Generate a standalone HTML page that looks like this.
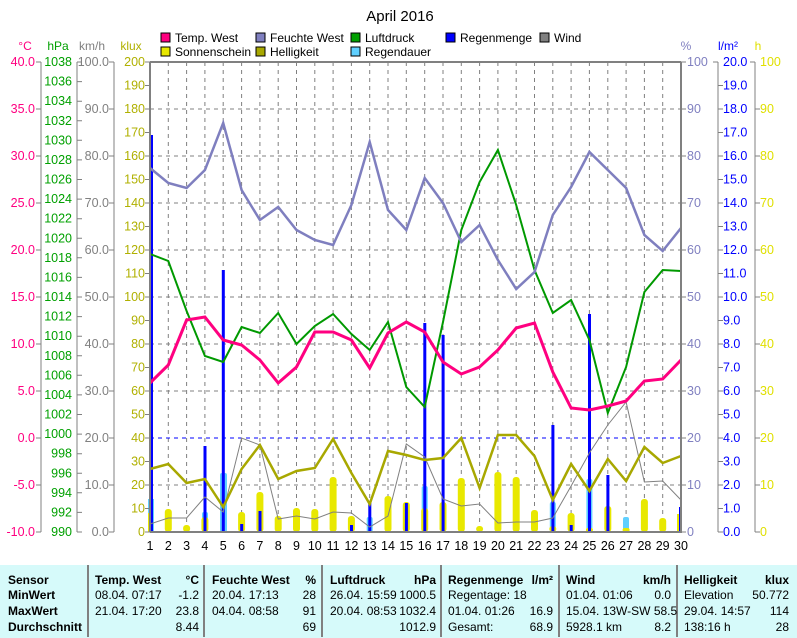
<!DOCTYPE html>
<html><head><meta charset="utf-8"><style>
html,body{margin:0;padding:0;background:#fff;}
svg{display:block;font-family:"Liberation Sans",sans-serif;}
</style></head><body>
<svg width="797" height="638" viewBox="0 0 797 638" xmlns="http://www.w3.org/2000/svg">
<rect width="797" height="638" fill="#fff"/>
<text x="400" y="21" font-size="15" text-anchor="middle">April 2016</text>
<!-- legend -->
<g font-size="12">
<rect x="161" y="33" width="9" height="9" fill="#ff0080" stroke="#000"/><text x="175" y="42">Temp. West</text>
<rect x="256" y="33" width="9" height="9" fill="#8080c0" stroke="#000"/><text x="270" y="42">Feuchte West</text>
<rect x="351" y="33" width="9" height="9" fill="#00a000" stroke="#000"/><text x="365" y="42">Luftdruck</text>
<rect x="446" y="33" width="9" height="9" fill="#0000ff" stroke="#000"/><text x="460" y="42">Regenmenge</text>
<rect x="540" y="33" width="9" height="9" fill="#808080" stroke="#000"/><text x="554" y="42">Wind</text>
<rect x="161" y="47" width="9" height="9" fill="#e8e800" stroke="#000"/><text x="175" y="56">Sonnenschein</text>
<rect x="256" y="47" width="9" height="9" fill="#a8a800" stroke="#000"/><text x="270" y="56">Helligkeit</text>
<rect x="351" y="47" width="9" height="9" fill="#60d0ff" stroke="#000"/><text x="365" y="56">Regendauer</text>
</g>
<!-- axis titles -->
<g font-size="12" text-anchor="middle">
<text x="25" y="50" fill="#ff0080">°C</text>
<text x="58" y="50" fill="#00a000">hPa</text>
<text x="92" y="50" fill="#808080">km/h</text>
<text x="131" y="50" fill="#b0b000">klux</text>
<text x="686" y="50" fill="#8080c0">%</text>
<text x="728" y="50" fill="#0000ff">l/m²</text>
<text x="758" y="50" fill="#e0e000">h</text>
</g>
<!-- grid -->
<g stroke="#808080" stroke-dasharray="4,4" stroke-width="1">
<line x1="150" y1="109" x2="681" y2="109"/><line x1="150" y1="156" x2="681" y2="156"/><line x1="150" y1="203" x2="681" y2="203"/><line x1="150" y1="250" x2="681" y2="250"/><line x1="150" y1="297" x2="681" y2="297"/><line x1="150" y1="344" x2="681" y2="344"/><line x1="150" y1="391" x2="681" y2="391"/><line x1="150" y1="485" x2="681" y2="485"/>
<line x1="168.3" y1="62" x2="168.3" y2="532"/><line x1="186.6" y1="62" x2="186.6" y2="532"/><line x1="204.9" y1="62" x2="204.9" y2="532"/><line x1="223.2" y1="62" x2="223.2" y2="532"/><line x1="241.6" y1="62" x2="241.6" y2="532"/><line x1="259.9" y1="62" x2="259.9" y2="532"/><line x1="278.2" y1="62" x2="278.2" y2="532"/><line x1="296.5" y1="62" x2="296.5" y2="532"/><line x1="314.8" y1="62" x2="314.8" y2="532"/><line x1="333.1" y1="62" x2="333.1" y2="532"/><line x1="351.4" y1="62" x2="351.4" y2="532"/><line x1="369.7" y1="62" x2="369.7" y2="532"/><line x1="388" y1="62" x2="388" y2="532"/><line x1="406.3" y1="62" x2="406.3" y2="532"/><line x1="424.7" y1="62" x2="424.7" y2="532"/><line x1="443" y1="62" x2="443" y2="532"/><line x1="461.3" y1="62" x2="461.3" y2="532"/><line x1="479.6" y1="62" x2="479.6" y2="532"/><line x1="497.9" y1="62" x2="497.9" y2="532"/><line x1="516.2" y1="62" x2="516.2" y2="532"/><line x1="534.5" y1="62" x2="534.5" y2="532"/><line x1="552.8" y1="62" x2="552.8" y2="532"/><line x1="571.1" y1="62" x2="571.1" y2="532"/><line x1="589.4" y1="62" x2="589.4" y2="532"/><line x1="607.8" y1="62" x2="607.8" y2="532"/><line x1="626.1" y1="62" x2="626.1" y2="532"/><line x1="644.4" y1="62" x2="644.4" y2="532"/><line x1="662.7" y1="62" x2="662.7" y2="532"/>
</g>
<line x1="150" y1="438" x2="681" y2="438" stroke="#0000ff" stroke-dasharray="4,4"/>
<!-- rain duration -->
<g fill="#60d0ff">
<rect x="148" y="499" width="6" height="33"/><rect x="202" y="512" width="6" height="20" rx="2"/><rect x="220" y="473" width="7" height="59" rx="2"/><rect x="366.7" y="517" width="6" height="15" rx="2"/><rect x="421.7" y="486" width="6" height="46" rx="2"/><rect x="549.8" y="502" width="6" height="30" rx="2"/><rect x="586.4" y="479" width="6" height="53" rx="2"/><rect x="623" y="517" width="6" height="15" rx="2"/>
</g>
<!-- sunshine -->
<g fill="#e8e800">
<rect x="148" y="513" width="5" height="19"/><rect x="164.8" y="509" width="7" height="23" rx="3"/><rect x="183.1" y="525" width="7" height="7" rx="3"/><rect x="201.4" y="517" width="7" height="15" rx="3"/><rect x="238.1" y="512" width="7" height="20" rx="3"/><rect x="256.4" y="492" width="7" height="40" rx="3"/><rect x="274.7" y="516" width="7" height="16" rx="3"/><rect x="293" y="508" width="7" height="24" rx="3"/><rect x="311.3" y="509" width="7" height="23" rx="3"/><rect x="329.6" y="477" width="7" height="55" rx="3"/><rect x="347.9" y="516" width="7" height="16" rx="3"/><rect x="384.5" y="496" width="7" height="36" rx="3"/><rect x="402.8" y="502" width="7" height="30" rx="3"/><rect x="421.2" y="508" width="7" height="24" rx="3"/><rect x="439.5" y="502" width="7" height="30" rx="3"/><rect x="457.8" y="478" width="7" height="54" rx="3"/><rect x="476.1" y="526" width="7" height="6" rx="3"/><rect x="494.4" y="472" width="7" height="60" rx="3"/><rect x="512.7" y="477" width="7" height="55" rx="3"/><rect x="531" y="510" width="7" height="22" rx="3"/><rect x="549.3" y="526" width="7" height="6" rx="3"/><rect x="567.6" y="513" width="7" height="19" rx="3"/><rect x="585.9" y="528" width="7" height="4" rx="2"/><rect x="604.3" y="506" width="7" height="26" rx="3"/><rect x="622.6" y="528" width="7" height="4" rx="2"/><rect x="640.9" y="499" width="7" height="33" rx="3"/><rect x="659.2" y="518" width="7" height="14" rx="3"/><rect x="677" y="514" width="4" height="18"/>
</g>
<!-- rain amount -->
<g fill="#0000ff">
<rect x="150" y="135" width="3" height="397"/><rect x="203.5" y="446" width="3" height="86"/><rect x="221.8" y="270" width="3" height="262"/><rect x="240.2" y="524" width="3" height="8"/><rect x="258.5" y="511" width="3" height="21"/><rect x="350" y="525" width="3" height="7"/><rect x="368.3" y="503" width="3" height="29"/><rect x="404.9" y="503" width="3" height="29"/><rect x="423.3" y="323" width="3" height="209"/><rect x="441.6" y="335" width="3" height="197"/><rect x="551.4" y="425" width="3" height="107"/><rect x="569.7" y="525" width="3" height="7"/><rect x="588" y="314" width="3" height="218"/><rect x="606.4" y="475" width="3" height="57"/><rect x="679" y="507" width="3" height="25"/>
</g>
<!-- wind -->
<polyline fill="none" stroke="#808080" stroke-width="1" points="150,524 168.3,518 186.6,518 204.9,497 223.2,512 241.6,438 259.9,445 278.2,519 296.5,516 314.8,519 333.1,512 351.4,513 369.7,527 388,516 406.3,444 424.7,457 443,499 461.3,506 479.6,504 497.9,523 516.2,522 534.5,522 552.8,518 571.1,486 589.4,453 607.8,425 626.1,402 644.4,482 662.7,481 681,500"/>
<!-- brightness -->
<polyline fill="none" stroke="#a8a800" stroke-width="2.5" points="150,469 168.3,464 186.6,483 204.9,479 223.2,507 241.6,469 259.9,445 278.2,479 296.5,471 314.8,468 333.1,439 351.4,473 369.7,504 388,451 406.3,455 424.7,460 443,458 461.3,438 479.6,488 497.9,435 516.2,435 534.5,456 552.8,500 571.1,464 589.4,491 607.8,459 626.1,481 644.4,447 662.7,463 681,456"/>
<!-- pressure -->
<polyline fill="none" stroke="#009900" stroke-width="2" points="150,254 168.3,261 186.6,311 204.9,356 223.2,362 241.6,327 259.9,333 278.2,313 296.5,344 314.8,326 333.1,314 351.4,334 369.7,350 388,322 406.3,387 424.7,407 443,322 461.3,230 479.6,182 497.9,150 516.2,205 534.5,270 552.8,313 571.1,300 589.4,340 607.8,413 626.1,367 644.4,292 662.7,270 681,271"/>
<!-- humidity -->
<polyline fill="none" stroke="#7f7fbf" stroke-width="2.5" points="150,168 168.3,183 186.6,188 204.9,170 223.2,123 241.6,190 259.9,220 278.2,207 296.5,230 314.8,240 333.1,245 351.4,205 369.7,142 388,210 406.3,230 424.7,178 443,203 461.3,242 479.6,225 497.9,260 516.2,289 534.5,272 552.8,215 571.1,187 589.4,152 607.8,170 626.1,188 644.4,235 662.7,251 681,228"/>
<!-- temp -->
<polyline fill="none" stroke="#ff0080" stroke-width="3" points="150,383 168.3,365 186.6,320 204.9,317 223.2,340 241.6,345 259.9,360 278.2,383 296.5,367 314.8,332 333.1,332 351.4,340 369.7,368 388,333 406.3,322 424.7,332 443,362 461.3,374 479.6,367 497.9,350 516.2,328 534.5,323 552.8,372 571.1,408 589.4,410 607.8,406 626.1,401 644.4,381 662.7,379 681,360"/>
<!-- plot frame -->
<g stroke="#808080" fill="none">
<line x1="150" y1="62" x2="681" y2="62" stroke-width="2"/>
<line x1="150" y1="532" x2="681" y2="532" stroke-width="2"/>
<line x1="150" y1="62" x2="150" y2="532" stroke-width="2"/>
<line x1="681" y1="62" x2="681" y2="533" stroke-width="2"/>
<line x1="41" y1="62" x2="41" y2="532"/><line x1="77" y1="62" x2="77" y2="532"/><line x1="114" y1="62" x2="114" y2="532"/><line x1="718" y1="62" x2="718" y2="532"/><line x1="755" y1="62" x2="755" y2="532"/>
</g>
<!-- ticks -->
<g stroke="#808080">
<path d="M36 62h5M36 109h5M36 156h5M36 203h5M36 250h5M36 297h5M36 344h5M36 391h5M36 438h5M36 485h5M36 532h5"/>
<path d="M77 62h5M77 81.6h5M77 101.2h5M77 120.8h5M77 140.3h5M77 159.9h5M77 179.5h5M77 199.1h5M77 218.7h5M77 238.3h5M77 257.8h5M77 277.4h5M77 297h5M77 316.6h5M77 336.2h5M77 355.8h5M77 375.3h5M77 394.9h5M77 414.5h5M77 434.1h5M77 453.7h5M77 473.3h5M77 492.8h5M77 512.4h5M77 532h5"/>
<path d="M109 62h5M109 109h5M109 156h5M109 203h5M109 250h5M109 297h5M109 344h5M109 391h5M109 438h5M109 485h5M109 532h5"/>
<path d="M145 62h5M145 85.5h5M145 109h5M145 132.5h5M145 156h5M145 179.5h5M145 203h5M145 226.5h5M145 250h5M145 273.5h5M145 297h5M145 320.5h5M145 344h5M145 367.5h5M145 391h5M145 414.5h5M145 438h5M145 461.5h5M145 485h5M145 508.5h5M145 532h5"/>
<path d="M681 62h5M681 109h5M681 156h5M681 203h5M681 250h5M681 297h5M681 344h5M681 391h5M681 438h5M681 485h5M681 532h5"/>
<path d="M713 62h5M718 85.5h5M718 109h5M718 132.5h5M718 156h5M718 179.5h5M718 203h5M718 226.5h5M718 250h5M718 273.5h5M718 297h5M718 320.5h5M718 344h5M718 367.5h5M718 391h5M718 414.5h5M718 438h5M718 461.5h5M718 485h5M718 508.5h5M718 532h5"/>
<path d="M750 62h5M755 109h5M755 156h5M755 203h5M755 250h5M755 297h5M755 344h5M755 391h5M755 438h5M755 485h5M755 532h5"/>
</g>
<!-- tick labels -->
<g font-size="12.5" dominant-baseline="central" text-anchor="end">
<g fill="#ff0080">
<text x="35" y="62">40.0</text><text x="35" y="109">35.0</text><text x="35" y="156">30.0</text><text x="35" y="203">25.0</text><text x="35" y="250">20.0</text><text x="35" y="297">15.0</text><text x="35" y="344">10.0</text><text x="35" y="391">5.0</text><text x="35" y="438">0.0</text><text x="35" y="485">-5.0</text><text x="35" y="532">-10.0</text>
</g>
<g fill="#00a000">
<text x="72" y="62">1038</text><text x="72" y="81.6">1036</text><text x="72" y="101.2">1034</text><text x="72" y="120.8">1032</text><text x="72" y="140.3">1030</text><text x="72" y="159.9">1028</text><text x="72" y="179.5">1026</text><text x="72" y="199.1">1024</text><text x="72" y="218.7">1022</text><text x="72" y="238.3">1020</text><text x="72" y="257.8">1018</text><text x="72" y="277.4">1016</text><text x="72" y="297">1014</text><text x="72" y="316.6">1012</text><text x="72" y="336.2">1010</text><text x="72" y="355.8">1008</text><text x="72" y="375.3">1006</text><text x="72" y="394.9">1004</text><text x="72" y="414.5">1002</text><text x="72" y="434.1">1000</text><text x="72" y="453.7">998</text><text x="72" y="473.3">996</text><text x="72" y="492.8">994</text><text x="72" y="512.4">992</text><text x="72" y="532">990</text>
</g>
<g fill="#808080">
<text x="109" y="62">100.0</text><text x="109" y="109">90.0</text><text x="109" y="156">80.0</text><text x="109" y="203">70.0</text><text x="109" y="250">60.0</text><text x="109" y="297">50.0</text><text x="109" y="344">40.0</text><text x="109" y="391">30.0</text><text x="109" y="438">20.0</text><text x="109" y="485">10.0</text><text x="109" y="532">0.0</text>
</g>
<g fill="#b0b000">
<text x="145" y="62">200</text><text x="145" y="85.5">190</text><text x="145" y="109">180</text><text x="145" y="132.5">170</text><text x="145" y="156">160</text><text x="145" y="179.5">150</text><text x="145" y="203">140</text><text x="145" y="226.5">130</text><text x="145" y="250">120</text><text x="145" y="273.5">110</text><text x="145" y="297">100</text><text x="145" y="320.5">90</text><text x="145" y="344">80</text><text x="145" y="367.5">70</text><text x="145" y="391">60</text><text x="145" y="414.5">50</text><text x="145" y="438">40</text><text x="145" y="461.5">30</text><text x="145" y="485">20</text><text x="145" y="508.5">10</text><text x="145" y="532">0</text>
</g>
</g>
<g font-size="12.5" dominant-baseline="central" text-anchor="start">
<g fill="#8080c0">
<text x="687" y="62">100</text><text x="687" y="109">90</text><text x="687" y="156">80</text><text x="687" y="203">70</text><text x="687" y="250">60</text><text x="687" y="297">50</text><text x="687" y="344">40</text><text x="687" y="391">30</text><text x="687" y="438">20</text><text x="687" y="485">10</text><text x="687" y="532">0</text>
</g>
<g fill="#0000ff">
<text x="723" y="62">20.0</text><text x="723" y="85.5">19.0</text><text x="723" y="109">18.0</text><text x="723" y="132.5">17.0</text><text x="723" y="156">16.0</text><text x="723" y="179.5">15.0</text><text x="723" y="203">14.0</text><text x="723" y="226.5">13.0</text><text x="723" y="250">12.0</text><text x="723" y="273.5">11.0</text><text x="723" y="297">10.0</text><text x="723" y="320.5">9.0</text><text x="723" y="344">8.0</text><text x="723" y="367.5">7.0</text><text x="723" y="391">6.0</text><text x="723" y="414.5">5.0</text><text x="723" y="438">4.0</text><text x="723" y="461.5">3.0</text><text x="723" y="485">2.0</text><text x="723" y="508.5">1.0</text><text x="723" y="532">0.0</text>
</g>
<g fill="#e0e000">
<text x="760" y="62">100</text><text x="760" y="109">90</text><text x="760" y="156">80</text><text x="760" y="203">70</text><text x="760" y="250">60</text><text x="760" y="297">50</text><text x="760" y="344">40</text><text x="760" y="391">30</text><text x="760" y="438">20</text><text x="760" y="485">10</text><text x="760" y="532">0</text>
</g>
</g>
<!-- x labels -->
<g font-size="12.5" text-anchor="middle">
<text x="150" y="550">1</text><text x="168.3" y="550">2</text><text x="186.6" y="550">3</text><text x="204.9" y="550">4</text><text x="223.2" y="550">5</text><text x="241.6" y="550">6</text><text x="259.9" y="550">7</text><text x="278.2" y="550">8</text><text x="296.5" y="550">9</text><text x="314.8" y="550">10</text><text x="333.1" y="550">11</text><text x="351.4" y="550">12</text><text x="369.7" y="550">13</text><text x="388" y="550">14</text><text x="406.3" y="550">15</text><text x="424.7" y="550">16</text><text x="443" y="550">17</text><text x="461.3" y="550">18</text><text x="479.6" y="550">19</text><text x="497.9" y="550">20</text><text x="516.2" y="550">21</text><text x="534.5" y="550">22</text><text x="552.8" y="550">23</text><text x="571.1" y="550">24</text><text x="589.4" y="550">25</text><text x="607.8" y="550">26</text><text x="626.1" y="550">27</text><text x="644.4" y="550">28</text><text x="662.7" y="550">29</text><text x="681" y="550">30</text>
</g>
<!-- table -->
<rect x="0" y="565" width="797" height="73" fill="#d6fafa"/>
<g stroke="#808080" stroke-width="2">
<line x1="88" y1="565" x2="88" y2="637"/><line x1="204" y1="565" x2="204" y2="637"/><line x1="322" y1="565" x2="322" y2="637"/><line x1="441" y1="565" x2="441" y2="637"/><line x1="559" y1="565" x2="559" y2="637"/><line x1="677" y1="565" x2="677" y2="637"/>
</g>
<g font-size="12">
<g font-weight="bold">
<text x="8" y="584">Sensor</text><text x="8" y="599">MinWert</text><text x="8" y="615">MaxWert</text><text x="8" y="631">Durchschnitt</text>
<text x="95" y="584">Temp. West</text><text x="199" y="584" text-anchor="end">°C</text>
<text x="212" y="584">Feuchte West</text><text x="316" y="584" text-anchor="end">%</text>
<text x="330" y="584">Luftdruck</text><text x="436" y="584" text-anchor="end">hPa</text>
<text x="448" y="584">Regenmenge</text><text x="553" y="584" text-anchor="end">l/m²</text>
<text x="566" y="584">Wind</text><text x="671" y="584" text-anchor="end">km/h</text>
<text x="684" y="584">Helligkeit</text><text x="789" y="584" text-anchor="end">klux</text>
</g>
<text x="95" y="599">08.04.  07:17</text><text x="199" y="599" text-anchor="end">-1.2</text>
<text x="95" y="615">21.04.  17:20</text><text x="199" y="615" text-anchor="end">23.8</text>
<text x="199" y="631" text-anchor="end">8.44</text>
<text x="212" y="599">20.04.  17:13</text><text x="316" y="599" text-anchor="end">28</text>
<text x="212" y="615">04.04.  08:58</text><text x="316" y="615" text-anchor="end">91</text>
<text x="316" y="631" text-anchor="end">69</text>
<text x="330" y="599">26.04.  15:59</text><text x="436" y="599" text-anchor="end">1000.5</text>
<text x="330" y="615">20.04.  08:53</text><text x="436" y="615" text-anchor="end">1032.4</text>
<text x="436" y="631" text-anchor="end">1012.9</text>
<text x="448" y="599">Regentage: 18</text>
<text x="448" y="615">01.04.  01:26</text><text x="553" y="615" text-anchor="end">16.9</text>
<text x="448" y="631">Gesamt:</text><text x="553" y="631" text-anchor="end">68.9</text>
<text x="566" y="599">01.04.  01:06</text><text x="671" y="599" text-anchor="end">0.0</text>
<text x="566" y="615">15.04.  13W-SW 58.5</text>
<text x="566" y="631">5928.1 km</text><text x="671" y="631" text-anchor="end">8.2</text>
<text x="684" y="599">Elevation</text><text x="789" y="599" text-anchor="end">50.772</text>
<text x="684" y="615">29.04.  14:57</text><text x="789" y="615" text-anchor="end">114</text>
<text x="684" y="631">138:16 h</text><text x="789" y="631" text-anchor="end">28</text>
</g>
</svg>
</body></html>
